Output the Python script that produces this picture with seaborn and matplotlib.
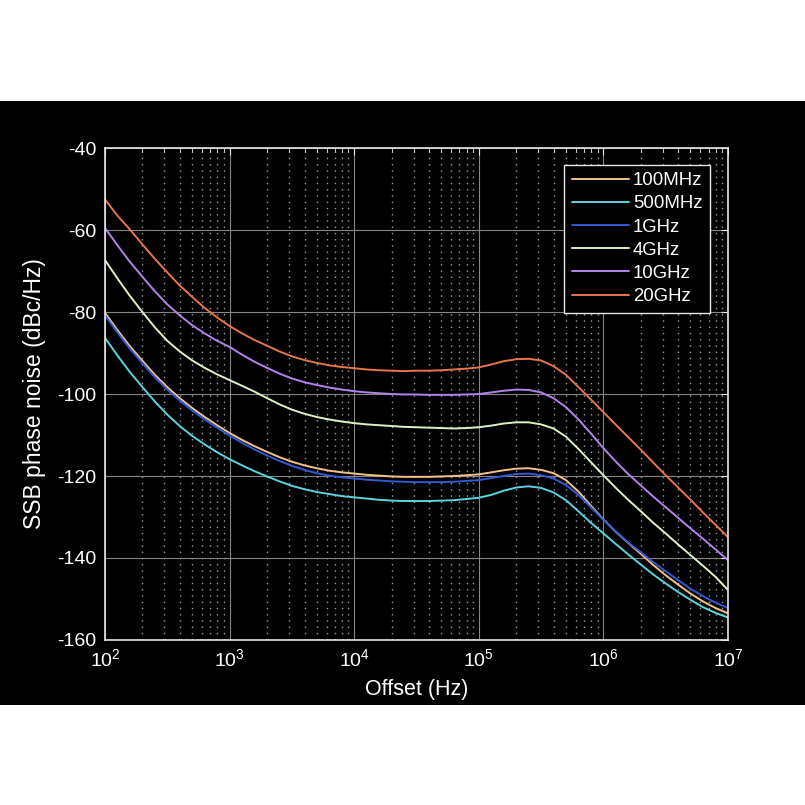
import numpy as np
import pandas as pd
import matplotlib
matplotlib.use("Agg")
import matplotlib.pyplot as plt
import matplotlib.patches as mpatches
from matplotlib.ticker import LogLocator, NullFormatter
import seaborn as sns

# offset frequencies (Hz), 10 points per decade
offset_hz = [100, 126, 158, 200, 251, 316, 398, 501, 631, 794,
             1e3, 1.26e3, 1.58e3, 2e3, 2.51e3, 3.16e3, 3.98e3, 5.01e3, 6.31e3, 7.94e3,
             1e4, 1.26e4, 1.58e4, 2e4, 2.51e4, 3.16e4, 3.98e4, 5.01e4, 6.31e4, 7.94e4,
             1e5, 1.26e5, 1.58e5, 2e5, 2.51e5, 3.16e5, 3.98e5, 5.01e5, 6.31e5, 7.94e5,
             1e6, 1.26e6, 1.58e6, 2e6, 2.51e6, 3.16e6, 3.98e6, 5.01e6, 6.31e6, 7.94e6,
             1e7]

pn_100mhz = [-80.2, -84.4, -88.3, -91.9, -95.3, -98.3, -101.0, -103.4, -105.6, -107.6,
             -109.5, -111.2, -112.7, -114.1, -115.4, -116.5, -117.4, -118.1, -118.7, -119.1,
             -119.4, -119.7, -119.9, -120.1, -120.2, -120.2, -120.2, -120.1, -120.0, -119.8,
             -119.6, -119.1, -118.6, -118.2, -118.1, -118.5, -119.3, -121.0, -123.8, -127.2,
             -130.6, -133.6, -136.3, -139.0, -141.7, -144.2, -146.5, -148.7, -150.6, -152.2,
             -153.5]

pn_500mhz = [-86.3, -90.6, -94.6, -98.3, -101.8, -105.0, -107.8, -110.2, -112.3, -114.2,
             -115.9, -117.4, -118.8, -120.1, -121.3, -122.4, -123.2, -123.9, -124.4, -124.9,
             -125.2, -125.5, -125.8, -126.0, -126.1, -126.1, -126.1, -126.0, -125.9, -125.6,
             -125.3, -124.6, -123.6, -122.8, -122.5, -122.9, -124.0, -125.9, -128.6, -131.4,
             -134.0, -136.6, -139.1, -141.6, -144.0, -146.2, -148.3, -150.2, -152.0, -153.4,
             -154.5]

pn_1ghz = [-80.8, -85.0, -88.9, -92.5, -95.9, -98.9, -101.6, -104.0, -106.2, -108.2,
           -110.1, -111.9, -113.5, -115.0, -116.3, -117.5, -118.5, -119.3, -119.9, -120.3,
           -120.6, -120.9, -121.1, -121.3, -121.4, -121.5, -121.5, -121.5, -121.4, -121.2,
           -121.0, -120.5, -120.0, -119.5, -119.4, -119.8, -120.6, -122.2, -124.6, -127.6,
           -130.7, -133.5, -136.2, -138.6, -141.0, -143.2, -145.4, -147.5, -149.3, -150.9,
           -152.2]

pn_4ghz = [-67.3, -71.8, -76.0, -80.0, -83.7, -87.0, -89.6, -91.8, -93.6, -95.2,
           -96.6, -98.0, -99.4, -101.0, -102.5, -103.8, -104.8, -105.6, -106.2, -106.7,
           -107.1, -107.4, -107.6, -107.8, -108.0, -108.1, -108.2, -108.3, -108.4, -108.3,
           -108.1, -107.7, -107.2, -106.9, -106.9, -107.4, -108.4, -110.4, -113.4, -116.6,
           -119.8, -122.9, -125.8, -128.6, -131.4, -134.0, -136.7, -139.3, -141.9, -144.6,
           -147.8]

pn_10ghz = [-59.5, -63.7, -67.7, -71.4, -74.9, -78.1, -80.8, -83.2, -85.2, -87.0,
            -88.5, -90.4, -92.1, -93.6, -95.0, -96.2, -97.1, -97.8, -98.4, -98.9,
            -99.3, -99.6, -99.8, -100.0, -100.1, -100.1, -100.2, -100.2, -100.2, -100.1,
            -100.0, -99.6, -99.2, -98.9, -99.0, -99.6, -101.0, -103.2, -106.2, -109.6,
            -113.2, -116.5, -119.5, -122.3, -125.0, -127.6, -130.2, -132.8, -135.3, -137.9,
            -140.5]

pn_20ghz = [-52.5, -56.5, -59.8, -63.5, -67.0, -70.3, -73.5, -76.3, -79.0, -81.3,
            -83.4, -85.2, -86.8, -88.2, -89.6, -90.8, -91.7, -92.4, -93.0, -93.4,
            -93.7, -94.0, -94.2, -94.3, -94.4, -94.3, -94.3, -94.2, -94.0, -93.8,
            -93.5, -92.8, -92.0, -91.5, -91.4, -91.8, -93.2, -95.3, -98.3, -101.3,
            -104.4, -107.5, -110.5, -113.6, -116.7, -119.8, -122.8, -125.8, -128.9, -131.9,
            -134.9]

carriers = ["100MHz", "500MHz", "1GHz", "4GHz", "10GHz", "20GHz"]
series = [pn_100mhz, pn_500mhz, pn_1ghz, pn_4ghz, pn_10ghz, pn_20ghz]
colors = ["#f2c386", "#5cd3df", "#3458d6", "#dcf2c6", "#b184ec", "#e8764a"]

frames = []
for name, vals in zip(carriers, series):
    frames.append(pd.DataFrame({"offset": offset_hz, "pn": vals, "carrier": name}))
df = pd.concat(frames, ignore_index=True)

sns.set_style("dark")
plt.rcParams["font.family"] = ["Liberation Sans", "DejaVu Sans"]
plt.rcParams["axes.unicode_minus"] = False

fig = plt.figure(figsize=(8.05, 8.05), dpi=100, facecolor="white")
# black band behind the plot like the screenshot
band = mpatches.Rectangle((0, 0.124), 1, 0.7505, transform=fig.transFigure,
                          facecolor="black", edgecolor="none", zorder=-10)
fig.add_artist(band)
ax = fig.add_axes([0.1304, 0.205, 0.7739, 0.611])
ax.set_facecolor("black")

sns.lineplot(data=df, x="offset", y="pn", hue="carrier", hue_order=carriers,
             palette=dict(zip(carriers, colors)), linewidth=1.4, ax=ax, legend=True)

ax.set_xscale("log")
ax.set_xlim(1e2, 1e7)
ax.set_ylim(-160, -40)
ax.set_yticks(range(-160, -39, 20))
ax.xaxis.set_major_locator(LogLocator(base=10, numticks=10))
ax.xaxis.set_minor_locator(LogLocator(base=10, subs=np.arange(2, 10), numticks=100))
ax.xaxis.set_minor_formatter(NullFormatter())

ax.grid(True, which="major", color="#858585", linestyle="-", linewidth=0.8)
ax.grid(True, which="minor", axis="x", color="#a0a0a0", linestyle=(0, (1, 3.5)), linewidth=1.0)
ax.tick_params(which="both", direction="in", colors="#e6e6e6", top=True, right=True,
               labelsize=14, labelcolor="white", pad=6)
ax.tick_params(which="major", length=5)
ax.tick_params(which="minor", length=3)
for sp in ax.spines.values():
    sp.set_color("#e6e6e6")
    sp.set_linewidth(1.2)

ax.set_xlabel("Offset (Hz)", color="white", fontsize=15.5, labelpad=6)
ax.set_ylabel("SSB phase noise (dBc/Hz)", color="white", fontsize=16.5, labelpad=8)

leg = ax.legend(loc="upper right", bbox_to_anchor=(0.971, 0.966), fontsize=13.4,
                frameon=True, fancybox=False, handlelength=3.1, handletextpad=0.2,
                borderpad=0.4, labelspacing=0.33, borderaxespad=0)
leg.get_frame().set_facecolor("black")
leg.get_frame().set_edgecolor("#e6e6e6")
leg.get_frame().set_alpha(1)
for t in leg.get_texts():
    t.set_color("white")

fig.savefig("out.png", dpi=100, facecolor="white")
